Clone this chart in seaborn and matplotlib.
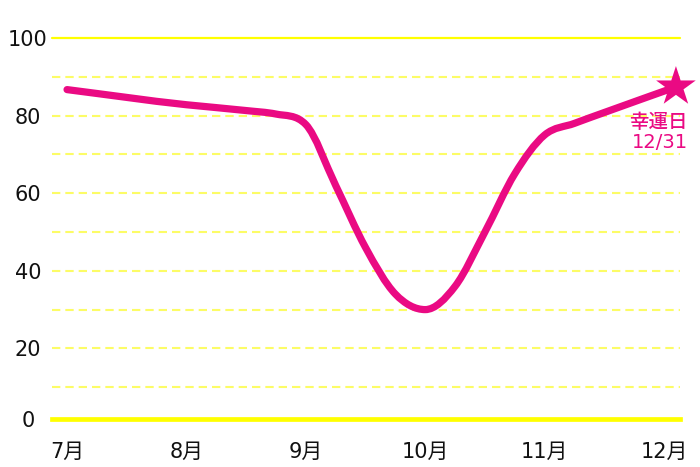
import numpy as np
import matplotlib
matplotlib.use("Agg")
import matplotlib.pyplot as plt
from matplotlib.path import Path
from matplotlib.patches import PathPatch
import seaborn as sns

# values (x = month, extra quarter months where the curve bends)
months = [7.0, 8.0, 8.5, 8.75, 9.0, 9.25, 9.5, 9.75, 10.0, 10.25, 10.5, 10.75, 11.0, 11.25, 11.5, 12.1]
values = [86.7, 82.8, 81.3, 80.4, 77.7, 62.0, 46.0, 34.0, 30.0, 36.0, 50.0, 65.0, 75.0, 78.0, 80.8, 87.4]

tick_months = [7, 8, 9, 10, 11, 12]
tick_labels = ["7月", "8月", "9月", "10月", "11月", "12月"]
y_ticks = [0, 20, 40, 60, 80, 100]
y_labels = ["0", "20", "40", "60", "80", "100"]
grid_dashed = [10, 20, 30, 40, 50, 60, 70, 80, 90]

lucky_text = "幸運日\n12/31"

PINK = "#EA0A83"
YELLOW = "#FFFF00"
PALE_YELLOW = "#FCFC66"
BASELINE = 1.8  # the baseline in the original sits a little above 0

sns.set_theme(style="white")
plt.rcParams["font.family"] = ["DejaVu Sans", "Noto Sans CJK JP"]
plt.rcParams["lines.scale_dashes"] = False


def smooth_path(xs, ys):
    # Fritsch-Carlson monotone cubic, drawn as bezier segments
    xs = np.asarray(xs, float)
    ys = np.asarray(ys, float)
    h = np.diff(xs)
    s = np.diff(ys) / h
    n = len(xs)
    t = np.zeros(n)
    t[0], t[-1] = s[0], s[-1]
    for i in range(1, n - 1):
        if s[i - 1] * s[i] > 0:
            t[i] = (s[i - 1] * h[i] + s[i] * h[i - 1]) / (h[i - 1] + h[i])
    for i in range(n - 1):
        if s[i] == 0:
            t[i] = t[i + 1] = 0
            continue
        a, b = t[i] / s[i], t[i + 1] / s[i]
        r = a * a + b * b
        if r > 9:
            tau = 3 / np.sqrt(r)
            t[i], t[i + 1] = tau * a * s[i], tau * b * s[i]
    verts = [(xs[0], ys[0])]
    codes = [Path.MOVETO]
    for i in range(n - 1):
        dx = h[i] / 3
        verts += [(xs[i] + dx, ys[i] + dx * t[i]),
                  (xs[i + 1] - dx, ys[i + 1] - dx * t[i + 1]),
                  (xs[i + 1], ys[i + 1])]
        codes += [Path.CURVE4] * 3
    return Path(verts, codes)


fig = plt.figure(figsize=(7, 4.67), dpi=100)
ax = fig.add_axes([52 / 700, 41 / 467, 628 / 700, 388 / 467])
ax.set_xlim(6.874, 12.134)
ax.set_ylim(0, 100)
ax.patch.set_alpha(0)

# grid
for g in grid_dashed:
    ax.axhline(g, color=PALE_YELLOW, lw=1.5, dashes=(6, 3.6), zorder=1, clip_on=False)
ax.axhline(100, color=YELLOW, lw=1.6, zorder=1, clip_on=False)

# spines / baseline
for side in ["top", "right", "left"]:
    ax.spines[side].set_visible(False)
ax.spines["bottom"].set_position(("data", BASELINE))
ax.spines["bottom"].set_color(YELLOW)
ax.spines["bottom"].set_linewidth(3.4)
ax.spines["bottom"].set_zorder(2)

ax.set_xticks(tick_months)
ax.set_xticklabels(tick_labels)
ax.tick_params(axis="x", direction="inout", length=17, width=2.2, color=YELLOW,
               labelsize=15, labelcolor="#111111", pad=8)

ax.set_yticks([BASELINE] + y_ticks[1:])
ax.set_yticklabels(y_labels)
ax.tick_params(axis="y", length=0, pad=17.3, labelsize=15, labelcolor="#111111")
for lab in ax.get_yticklabels():
    lab.set_horizontalalignment("center")

# smooth line
patch = PathPatch(smooth_path(months, values), facecolor="none", edgecolor=PINK,
                  lw=5.2, capstyle="round", joinstyle="round", zorder=3, clip_on=False)
ax.add_patch(patch)

# star at the lucky day
sns.scatterplot(x=[months[-1]], y=[values[-1]], marker="*", s=30 ** 2, color=PINK,
                edgecolor="none", zorder=4, clip_on=False, legend=False, ax=ax)

ax.text(12.2, 75.6, lucky_text, color=PINK, fontsize=14, ha="right", va="center",
        multialignment="right", linespacing=1.1, fontweight="medium")

ax.set_xlabel("")
ax.set_ylabel("")
fig.savefig("out.png", dpi=100)
